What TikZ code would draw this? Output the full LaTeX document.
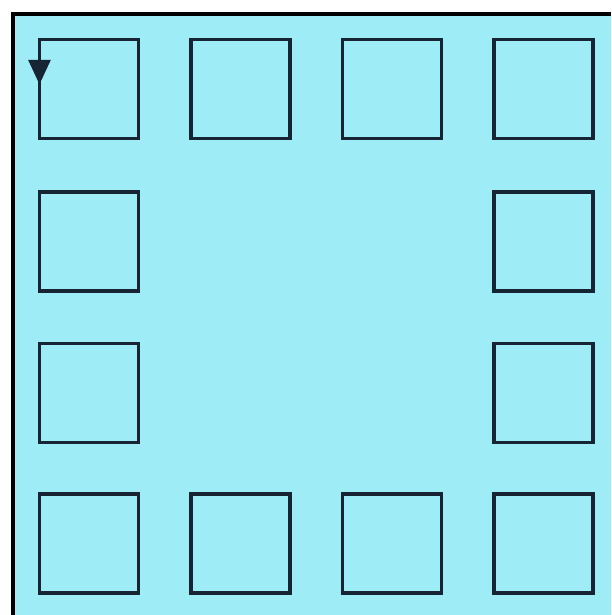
\documentclass[tikz,border=0pt]{standalone}
\usetikzlibrary{arrows.meta,calc}
\definecolor{bgcyan}{RGB}{158,236,245}
\definecolor{sqline}{RGB}{22,36,52}
\begin{document}
\begin{tikzpicture}[x=0.01cm,y=-0.01cm,
  sq/.style={draw=sqline,line width=1pt,minimum size=0.99cm,inner sep=0pt,outer sep=0pt,fill=none},
  frame/.style={draw=black,line width=1.2pt}]
\useasboundingbox (0,0) rectangle (611,615);
\fill[white] (0,0) rectangle (611,615);
\fill[bgcyan] (13,14) rectangle (611,615);
\draw[frame] (13,615) -- (13,14) -- (611,14);
% squares
\foreach \c/\x in {1/89,2/240.5,3/392,4/543.5}{
  \node[sq] (t\c) at (\x,89) {};
  \node[sq] (b\c) at (\x,543.5) {};
}
\node[sq] (l2) at (89,241.5) {};
\node[sq] (l3) at (89,393) {};
\node[sq] (r2) at (543.5,241.5) {};
\node[sq] (r3) at (543.5,393) {};
% arrow along left edge of first square
\coordinate (arrowend) at ($(t1.north west)+(0,45)$);
\draw[sqline,line width=1pt,-{Triangle[length=7pt,width=6.2pt]}] (t1.north west) -- (arrowend);
\end{tikzpicture}
\end{document}
